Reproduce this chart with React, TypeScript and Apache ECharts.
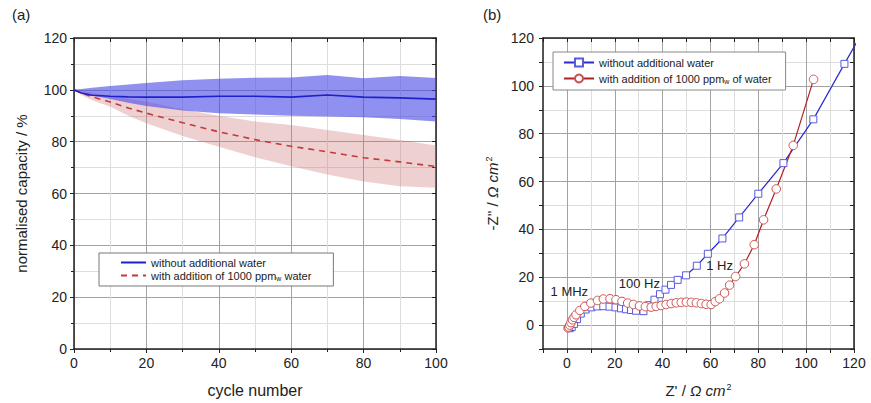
import React, { useEffect, useRef } from 'react';
import * as echarts from 'echarts';

// ---------- panel (a): capacity retention ----------
const cycles = [0, 2, 5, 10, 15, 20, 30, 40, 50, 60, 70, 80, 90, 100];
const dryMean = [100, 98.8, 97.9, 97.5, 97.3, 97.2, 97.2, 97.5, 97.5, 97.2, 98.0, 97.2, 96.9, 96.4];
const dryUpper = [100, 100.3, 100.8, 101.5, 102.1, 102.6, 103.7, 104.3, 104.7, 104.8, 105.7, 104.5, 105.3, 104.6];
const dryLower = [100, 99.0, 97.8, 96.5, 95.0, 93.8, 92.0, 91.0, 90.5, 90.0, 89.7, 89.4, 88.7, 87.8];
const wetMean = [100, 98.8, 97.3, 95.3, 93.0, 91.0, 87.3, 83.8, 80.8, 78.2, 76.1, 73.8, 72.2, 70.4];
const wetUpper = [100, 99.5, 99.0, 97.5, 96.5, 95.4, 92.5, 90.0, 87.8, 86.4, 84.5, 82.6, 80.6, 78.5];
const wetLower = [100, 98.0, 96.0, 93.5, 90.0, 87.1, 82.2, 78.0, 74.0, 70.5, 67.3, 64.6, 62.8, 62.2];

// ---------- panel (b): impedance spectra ----------
const dryRe = [1.2, 2.0, 3.0, 4.2, 5.8, 7.8, 10.2, 12.7, 15.2, 17.8, 20.3, 22.6, 24.7, 26.8, 28.9, 32.0, 34.3, 36.6, 38.9, 41.2, 43.5, 46.3, 49.8, 54.3, 58.9, 65.0, 72.0, 80.0, 90.5, 103.0, 116.0, 123.0];
const dryIm = [-1.3, -0.8, 0.5, 2.5, 4.8, 6.5, 7.4, 7.8, 7.9, 7.7, 7.4, 7.0, 6.6, 6.3, 6.0, 5.8, 8.3, 10.6, 12.9, 14.8, 16.8, 18.9, 20.8, 24.8, 29.8, 36.2, 45.0, 54.9, 67.7, 86.0, 109.2, 121.5];
const wetRe = [0.5, 0.8, 1.2, 1.7, 2.3, 3.0, 3.8, 5.4, 7.5, 10.0, 12.8, 15.2, 18.0, 20.5, 23.0, 25.4, 27.8, 30.3, 32.8, 35.2, 37.3, 39.4, 41.5, 43.6, 45.7, 47.8, 49.9, 52.0, 54.1, 56.2, 58.2, 60.3, 62.0, 63.8, 65.9, 68.0, 70.5, 74.2, 78.3, 82.2, 87.5, 94.6, 103.1];
const wetIm = [-1.2, -0.8, 0.0, 1.0, 2.2, 3.2, 4.3, 6.1, 7.8, 9.2, 10.3, 10.9, 11.0, 10.6, 9.9, 9.2, 8.6, 8.0, 7.7, 7.5, 7.8, 8.2, 8.6, 9.0, 9.3, 9.5, 9.6, 9.5, 9.3, 9.0, 8.7, 8.6, 9.8, 11.0, 13.4, 16.7, 20.3, 25.6, 33.6, 44.0, 56.9, 75.1, 102.7];
const dryMarkRe = [32.0, 65.0];
const dryMarkIm = [5.8, 36.2];
const wetMarkRe = [35.2, 60.3];
const wetMarkIm = [7.5, 8.6];
const annotText = ['1 MHz', '100 Hz', '1 Hz'];
const annotRe = [1.0, 30.3, 63.8];
const annotIm = [13.9, 17.3, 24.8];

const legendLabels: Record<string, string> = {
  'a-without': 'without additional water',
  'a-with': '{t|with addition of 1000 ppm}{s|w}{t| water}',
  'b-without': 'without additional water',
  'b-with': '{t|with addition of 1000 ppm}{s|w}{t| of water}',
};

const FONT = '"Liberation Sans", Arial, sans-serif';
const INK = '#222';

const pair = (xs: number[], ys: number[]) => xs.map((x, i) => [x, ys[i]]);

const bandSeries = (upper: number[], lower: number[], fill: string) => ({
  type: 'custom', xAxisIndex: 0, yAxisIndex: 0, silent: true,
  data: [[cycles[0], upper[0]]],
  renderItem: (_p: any, api: any) => {
    const top = cycles.map((c, i) => api.coord([c, upper[i]]));
    const bottom = cycles.map((c, i) => api.coord([c, lower[i]])).reverse();
    return { type: 'polygon', shape: { points: top.concat(bottom) }, style: { fill } };
  },
});

export default function App() {
  const ref = useRef<HTMLDivElement>(null);

  useEffect(() => {
    document.body.style.margin = '0';
    const chart = echarts.init(ref.current!, null, { renderer: 'svg' });

    const axisLine = { show: true, onZero: false, lineStyle: { color: INK, width: 1.5 } };
    const label = { color: INK, fontSize: 14, fontFamily: FONT, margin: 7 };
    const mirrorX = (grid: number, min: number, max: number) => ({
      type: 'value', gridIndex: grid, position: 'top', min, max, interval: 10,
      axisLine, axisTick: { show: true, inside: true, length: 4, lineStyle: { color: INK } },
      axisLabel: { show: false }, splitLine: { show: false },
    });
    const mirrorY = (grid: number, min: number, max: number) => ({
      type: 'value', gridIndex: grid, position: 'right', min, max, interval: 10,
      axisLine, axisTick: { show: true, inside: true, length: 4, lineStyle: { color: INK } },
      axisLabel: { show: false }, splitLine: { show: false },
    });
    const every20 = (v: number) => (v % 20 === 0 ? String(v) : '');
    const richName = {
      i: { fontStyle: 'italic', fontSize: 15, fontFamily: FONT, color: INK },
      sup: { fontSize: 9, fontFamily: FONT, color: INK, verticalAlign: 'top', padding: [0, 0, 8, 1] },
    };
    const legendRich = {
      t: { fontSize: 11, fontFamily: FONT, color: INK },
      s: { fontSize: 7, fontFamily: FONT, color: INK, padding: [6, 0, 0, 0] },
    };

    chart.setOption({
      animation: false,
      backgroundColor: '#fff',
      title: [
        { text: '(a)', left: 7, top: 2, textStyle: { fontSize: 15, fontWeight: 'normal', color: INK, fontFamily: FONT } },
        { text: '(b)', left: 478, top: 2, textStyle: { fontSize: 15, fontWeight: 'normal', color: INK, fontFamily: FONT } },
      ],
      grid: [
        { left: 74, right: 435, top: 38, bottom: 54 },
        { left: 543, right: 17, top: 38, bottom: 54 },
      ],
      xAxis: [
        {
          type: 'value', gridIndex: 0, min: 0, max: 100, interval: 20,
          name: 'cycle number', nameLocation: 'middle', nameGap: 33,
          nameTextStyle: { fontSize: 16, color: INK, fontFamily: FONT },
          axisLine, axisTick: { show: true, length: 4, lineStyle: { color: INK } },
          minorTick: { show: true, splitNumber: 2, length: 3, lineStyle: { color: INK } },
          axisLabel: label,
          splitLine: { show: true, lineStyle: { color: '#a3a3a3', width: 1 } },
          minorSplitLine: { show: true, lineStyle: { color: '#dedede', width: 1 } },
        },
        mirrorX(0, 0, 100),
        {
          type: 'value', gridIndex: 1, min: -10, max: 120, interval: 10,
          name: "Z' / {i|Ω cm}{sup|2}", nameLocation: 'middle', nameGap: 33,
          nameTextStyle: { fontSize: 15, color: INK, fontFamily: FONT, rich: richName },
          axisLine, axisTick: { show: true, length: 4, lineStyle: { color: INK } },
          axisLabel: { ...label, formatter: every20 },
          splitLine: { show: true, lineStyle: { color: ['#dedede', '#a3a3a3'], width: 1 } },
        },
        mirrorX(1, -10, 120),
      ],
      yAxis: [
        {
          type: 'value', gridIndex: 0, min: 0, max: 120, interval: 20,
          name: 'normalised capacity / %', nameLocation: 'middle', nameGap: 45,
          nameTextStyle: { fontSize: 15, color: INK, fontFamily: FONT },
          axisLine, axisTick: { show: true, length: 4, lineStyle: { color: INK } },
          minorTick: { show: true, splitNumber: 2, length: 3, lineStyle: { color: INK } },
          axisLabel: label,
          splitLine: { show: true, lineStyle: { color: '#a3a3a3', width: 1 } },
          minorSplitLine: { show: true, lineStyle: { color: '#dedede', width: 1 } },
        },
        mirrorY(0, 0, 120),
        {
          type: 'value', gridIndex: 1, min: -10, max: 120, interval: 10,
          name: "-Z'' / {i|Ω cm}{sup|2}", nameLocation: 'middle', nameGap: 42,
          nameTextStyle: { fontSize: 15, color: INK, fontFamily: FONT, rich: richName },
          axisLine, axisTick: { show: true, length: 4, lineStyle: { color: INK } },
          axisLabel: { ...label, formatter: every20, margin: 9 },
          splitLine: { show: true, lineStyle: { color: ['#dedede', '#a3a3a3'], width: 1 } },
        },
        mirrorY(1, -10, 120),
      ],
      legend: [
        {
          data: ['a-without', 'a-with'], orient: 'vertical', left: 99, top: 253,
          itemWidth: 25, itemHeight: 12, itemGap: 2, padding: [4, 22, 4, 21],
          backgroundColor: '#fff', borderColor: '#777', borderWidth: 1,
          selectedMode: false,
          itemStyle: { opacity: 0 },
          textStyle: { fontSize: 11, color: INK, fontFamily: FONT, rich: legendRich },
          formatter: (n: string) => legendLabels[n],
        },
        {
          data: ['b-without', 'b-with'], orient: 'vertical', left: 553, top: 52,
          itemWidth: 30, itemHeight: 10, itemGap: 5, padding: [5, 14, 5, 10],
          backgroundColor: '#fff', borderColor: '#888', borderWidth: 1,
          selectedMode: false,
          textStyle: { fontSize: 11, color: INK, fontFamily: FONT, rich: legendRich },
          formatter: (n: string) => legendLabels[n],
        },
      ],
      series: [
        { name: 'wet-band', ...bandSeries(wetUpper, wetLower, 'rgba(205,110,110,0.32)') },
        { name: 'dry-band', ...bandSeries(dryUpper, dryLower, 'rgba(70,70,232,0.6)') },
        {
          name: 'a-with', type: 'line', xAxisIndex: 0, yAxisIndex: 0,
          data: pair(cycles, wetMean), symbol: 'none', color: '#c23a3a',
          lineStyle: { color: '#c23a3a', width: 1.6, type: [6, 5] },
        },
        {
          name: 'a-without', type: 'line', xAxisIndex: 0, yAxisIndex: 0,
          data: pair(cycles, dryMean), symbol: 'none', color: '#2020c8',
          lineStyle: { color: '#2020c8', width: 1.6 },
        },
        {
          name: 'b-without', type: 'line', xAxisIndex: 2, yAxisIndex: 2,
          data: pair(dryRe, dryIm), symbol: 'rect', symbolSize: 7, color: '#2a2ad0',
          itemStyle: { color: '#fff', borderColor: '#5a5ae0', borderWidth: 1 },
          lineStyle: { color: '#2a2ad0', width: 1.2 },
        },
        {
          name: 'b-with', type: 'line', xAxisIndex: 2, yAxisIndex: 2,
          data: pair(wetRe, wetIm), symbol: 'circle', symbolSize: 8.5, color: '#b02222',
          itemStyle: { color: '#fff', borderColor: '#cc5050', borderWidth: 1 },
          lineStyle: { color: '#b02222', width: 1.2 },
        },
        {
          name: 'dry-mark', type: 'scatter', xAxisIndex: 2, yAxisIndex: 2,
          data: pair(dryMarkRe, dryMarkIm), symbol: 'rect', symbolSize: 7,
          itemStyle: { color: '#1c1cd0' },
        },
        {
          name: 'wet-mark', type: 'scatter', xAxisIndex: 2, yAxisIndex: 2,
          data: pair(wetMarkRe, wetMarkIm), symbol: 'circle', symbolSize: 8,
          itemStyle: { color: '#c02020' },
        },
        {
          name: 'annot', type: 'scatter', xAxisIndex: 2, yAxisIndex: 2, silent: true,
          data: annotRe.map((x, i) => [x, annotIm[i], annotText[i]]), symbolSize: 1,
          itemStyle: { color: 'transparent' },
          label: {
            show: true, position: 'inside', formatter: (p: any) => p.value[2],
            fontSize: 13, color: INK, fontFamily: FONT, opacity: 1,
          },
        },
      ],
    });
    return () => chart.dispose();
  }, []);

  return <div ref={ref} style={{ width: 871, height: 403 }} />;
}
